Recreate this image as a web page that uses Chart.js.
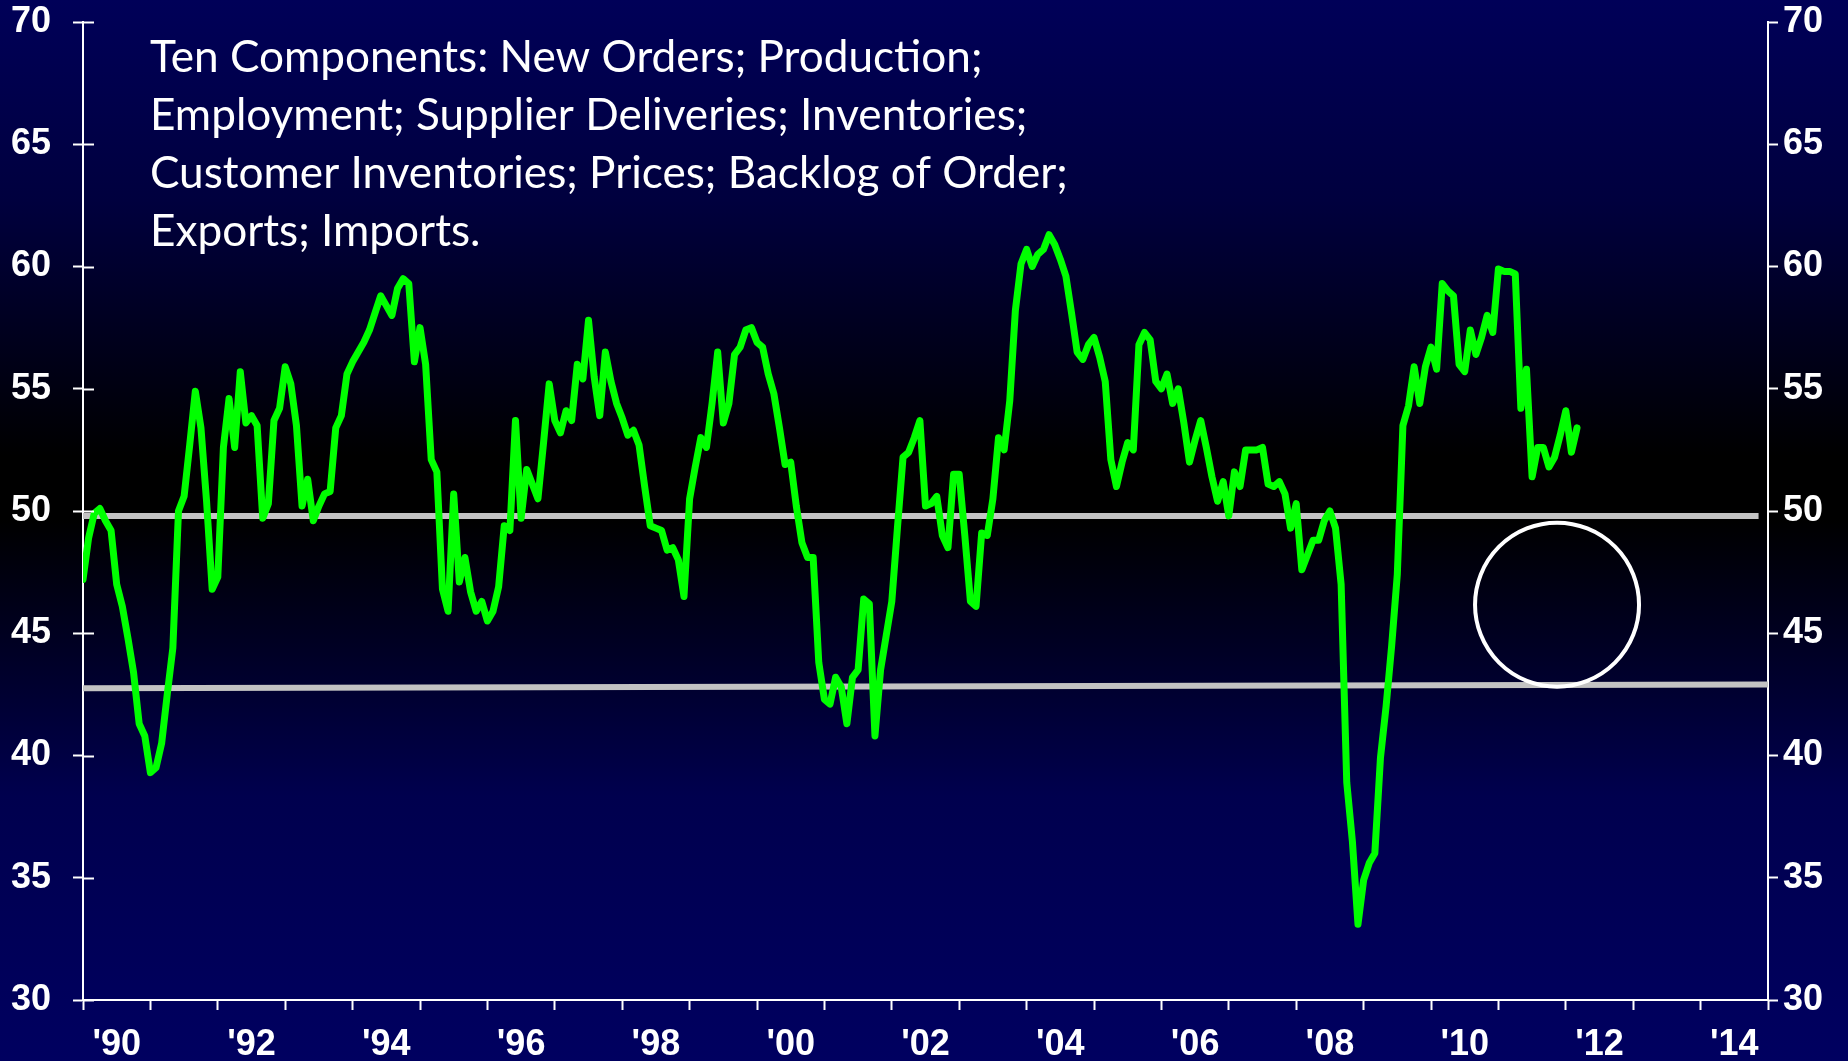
<!DOCTYPE html>
<html>
<head>
<meta charset="utf-8">
<title>ISM components</title>
<script src="https://cdn.jsdelivr.net/npm/chart.js@4.4.1/dist/chart.umd.min.js"></script>
<style>
  html, body { margin: 0; padding: 0; background: #000; overflow: hidden; }
  #wrap { width: 1848px; height: 1061px; }
</style>
</head>
<body>
<div id="wrap"><canvas id="chart" width="1848" height="1061"></canvas></div>
<script>
// monthly index values, Jan 1990 .. Mar 2012
const startYear = 1990;
const pmiValues = [
  47.2, 48.9, 49.9, 50.1, 49.6, 49.2, 47.0, 46.1, 44.8, 43.4, 41.3, 40.8, // 1990
  39.3, 39.5, 40.5, 42.5, 44.4, 50.0, 50.6, 52.7, 54.9, 53.4, 50.4, 46.8, // 1991
  47.3, 52.6, 54.6, 52.6, 55.7, 53.6, 53.9, 53.5, 49.7, 50.3, 53.7, 54.2, // 1992
  55.9, 55.2, 53.5, 50.2, 51.3, 49.6, 50.2, 50.7, 50.8, 53.4, 53.9, 55.6, // 1993
  56.1, 56.5, 56.9, 57.4, 58.1, 58.8, 58.4, 58.0, 59.1, 59.5, 59.3, 56.1, // 1994
  57.5, 56.0, 52.1, 51.6, 46.8, 45.9, 50.7, 47.1, 48.1, 46.7, 45.9, 46.3, // 1995
  45.5, 45.9, 46.9, 49.4, 49.2, 53.7, 49.7, 51.7, 51.1, 50.5, 52.8, 55.2, // 1996
  53.7, 53.2, 54.1, 53.7, 56.0, 55.4, 57.8, 55.5, 53.9, 56.5, 55.3, 54.4, // 1997
  53.8, 53.1, 53.3, 52.7, 51.0, 49.4, 49.3, 49.2, 48.4, 48.5, 48.0, 46.5, // 1998
  50.5, 51.8, 53.0, 52.6, 54.4, 56.5, 53.6, 54.4, 56.4, 56.7, 57.4, 57.5, // 1999
  56.9, 56.7, 55.6, 54.8, 53.4, 51.9, 52.0, 50.2, 48.7, 48.1, 48.1, 43.8, // 2000
  42.3, 42.1, 43.2, 42.8, 41.3, 43.2, 43.5, 46.4, 46.2, 40.8, 43.5, 44.9, // 2001
  46.3, 49.3, 52.2, 52.4, 53.0, 53.7, 50.2, 50.3, 50.6, 49.0, 48.5, 51.5, // 2002
  51.5, 49.0, 46.3, 46.1, 49.1, 49.0, 50.5, 53.0, 52.5, 54.5, 58.2, 60.1, // 2003
  60.7, 60.0, 60.5, 60.7, 61.3, 60.9, 60.3, 59.6, 58.1, 56.5, 56.2, 56.8, // 2004
  57.1, 56.3, 55.3, 52.1, 51.0, 52.0, 52.8, 52.5, 56.8, 57.3, 57.0, 55.3, // 2005
  55.0, 55.6, 54.4, 55.0, 53.6, 52.0, 52.9, 53.7, 52.6, 51.4, 50.4, 51.2, // 2006
  49.8, 51.6, 51.0, 52.5, 52.5, 52.5, 52.6, 51.1, 51.0, 51.2, 50.7, 49.3, // 2007
  50.3, 47.6, 48.2, 48.8, 48.8, 49.6, 50.0, 49.3, 47.0, 38.9, 36.5, 33.1, // 2008
  34.9, 35.6, 36.0, 39.9, 42.0, 44.5, 47.4, 53.5, 54.3, 55.9, 54.4, 55.9, // 2009
  56.7, 55.8, 59.3, 59.0, 58.8, 56.0, 55.7, 57.4, 56.4, 57.1, 58.0, 57.3, // 2010
  59.9, 59.8, 59.8, 59.7, 54.2, 55.8, 51.4, 52.6, 52.6, 51.8, 52.2, 53.1, // 2011
  54.1, 52.4, 53.4                                                        // 2012
];

// grey reference lines (x in years, y in index points)
const upperLineX = [1990, 2014.86];
const upperLineY = [49.8, 49.8];
const lowerLineX = [1990, 2015];
const lowerLineY = [42.75, 42.9];

// circled region
const circleX = [2011.87];
const circleY = [46.17];

const yMin = 30, yMax = 70, yStep = 5;
const xMin = 1990, xMax = 2015;

const noteLines = [
  'Ten Components: New Orders; Production;',
  'Employment; Supplier Deliveries; Inventories;',
  'Customer Inventories; Prices; Backlog of Order;',
  'Exports; Imports.'
];

const tickFont = { family: "'Liberation Sans', Arial, sans-serif", weight: 'bold', size: 36 };

const toPoints = (xs, ys) => xs.map((x, i) => ({ x: x, y: ys[i] }));

// fixed axis box, no extra padding for the end labels
const fixWidth = w => s => {
  s.width = w;
  s.paddingTop = 0;
  s.paddingBottom = 0;
};

const backgroundPlugin = {
  id: 'bg',
  beforeDraw(chart) {
    const ctx = chart.ctx;
    const g = ctx.createLinearGradient(0, 0, 0, chart.height);
    g.addColorStop(0, 'rgb(0,0,88)');
    g.addColorStop(0.19, 'rgb(0,0,62)');
    g.addColorStop(0.43, 'rgb(0,0,0)');
    g.addColorStop(0.49, 'rgb(0,0,0)');
    g.addColorStop(0.75, 'rgb(0,0,78)');
    g.addColorStop(1, 'rgb(0,0,96)');
    ctx.save();
    ctx.fillStyle = g;
    ctx.fillRect(0, 0, chart.width, chart.height);
    ctx.restore();
  }
};

const decorPlugin = {
  id: 'decor',
  afterDraw(chart) {
    const ctx = chart.ctx;
    const area = chart.chartArea;
    const y = chart.scales.y;
    ctx.save();
    // left axis ticks also poke into the plot
    ctx.strokeStyle = '#ffffff';
    ctx.lineWidth = 2;
    y.ticks.forEach(t => {
      const py = Math.round(y.getPixelForValue(t.value)) + 0.5;
      ctx.beginPath();
      ctx.moveTo(area.left, py);
      ctx.lineTo(area.left + 11, py);
      ctx.stroke();
    });

    // note text
    ctx.fillStyle = '#ffffff';
    ctx.textBaseline = 'alphabetic';
    ctx.font = '100px Lato, "Open Sans", sans-serif';
    const w = ctx.measureText(noteLines[2]).width;
    const size = 100 * 918 / w;
    ctx.font = size.toFixed(2) + 'px Lato, "Open Sans", sans-serif';
    noteLines.forEach((line, k) => {
      ctx.fillText(line, 150, 72 + k * 58);
    });
    ctx.restore();
  }
};

new Chart(document.getElementById('chart').getContext('2d'), {
  type: 'line',
  data: {
    datasets: [{
      data: pmiValues.map((v, i) => ({ x: startYear + i / 12, y: v })),
      borderColor: '#00ff00',
      borderWidth: 7,
      borderJoinStyle: 'round',
      borderCapStyle: 'round',
      pointRadius: 0,
      tension: 0,
      order: 0
    }, {
      data: toPoints(upperLineX, upperLineY),
      borderColor: '#c3c3c3',
      borderWidth: 6,
      pointRadius: 0,
      order: 2
    }, {
      data: toPoints(lowerLineX, lowerLineY),
      borderColor: '#c3c3c3',
      borderWidth: 6,
      pointRadius: 0,
      order: 2
    }, {
      type: 'scatter',
      data: toPoints(circleX, circleY),
      pointRadius: 82,
      pointHoverRadius: 82,
      pointBorderWidth: 4,
      pointBorderColor: '#ffffff',
      pointBackgroundColor: 'rgba(0,0,0,0)',
      showLine: false,
      clip: false,
      order: 1
    }]
  },
  options: {
    responsive: false,
    animation: false,
    events: [],
    layout: { autoPadding: false, padding: { top: 22, left: 0, right: 0, bottom: 0 } },
    plugins: { legend: { display: false }, tooltip: { enabled: false } },
    scales: {
      x: {
        type: 'linear',
        min: xMin,
        max: xMax,
        afterFit: s => { s.height = 61; },
        border: { display: true, color: '#ffffff', width: 2 },
        grid: { drawOnChartArea: false, color: '#ffffff', tickColor: '#ffffff', tickWidth: 2, tickLength: 10 },
        ticks: {
          stepSize: 1,
          autoSkip: false,
          maxRotation: 0,
          color: '#ffffff',
          font: tickFont,
          padding: 13,
          labelOffset: 33.7,
          callback: v => (v % 2 === 0 && v < xMax) ? "'" + String(v).slice(2) : ''
        }
      },
      y: {
        position: 'left',
        min: yMin,
        max: yMax,
        afterFit: fixWidth(83),
        border: { display: true, color: '#ffffff', width: 2 },
        grid: { drawOnChartArea: false, color: '#ffffff', tickColor: '#ffffff', tickWidth: 2, tickLength: 10 },
        ticks: { stepSize: yStep, color: '#ffffff', font: tickFont, padding: 22 }
      },
      y2: {
        position: 'right',
        min: yMin,
        max: yMax,
        afterFit: fixWidth(80),
        border: { display: true, color: '#ffffff', width: 2 },
        grid: { drawOnChartArea: false, color: '#ffffff', tickColor: '#ffffff', tickWidth: 2, tickLength: 10 },
        ticks: { stepSize: yStep, color: '#ffffff', font: tickFont, padding: 5 }
      }
    }
  },
  plugins: [backgroundPlugin, decorPlugin]
});
</script>
</body>
</html>
